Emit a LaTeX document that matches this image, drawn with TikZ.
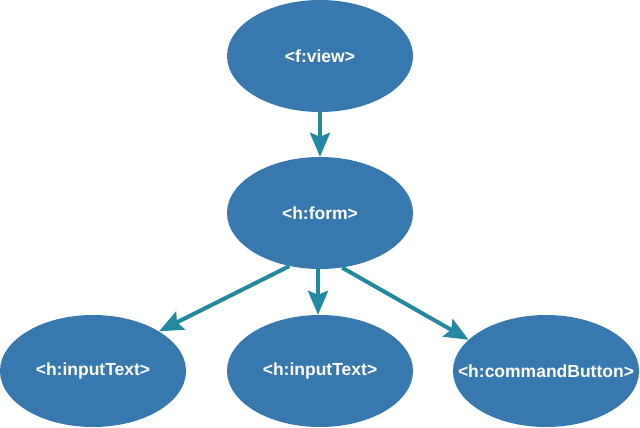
\documentclass[tikz,border=0pt]{standalone}
\usepackage{fontspec}
\setmainfont{Liberation Sans}
\usetikzlibrary{shapes.geometric, arrows.meta}
\definecolor{tagblue}{RGB}{55,120,174}
\definecolor{linkteal}{RGB}{34,137,160}
\newcommand{\tagname}[1]{\makebox[0pt]{#1}}

\begin{document}
\begin{tikzpicture}[x=1bp, y=1bp,
	tag/.style={ellipse, fill=tagblue, inner sep=0pt, minimum width=186bp, minimum height=112bp, text=white, font=\fontsize{17.5bp}{20bp}\selectfont\bfseries},
	link/.style={draw=linkteal, line width=4bp, -{Stealth[length=24bp, width=20bp, inset=4bp]}}]
	\useasboundingbox (0,0) rectangle (640,427);
	\node [tag] (view) at (320,371) {\tagname{<f:view>}};
	\node [tag] (form) at (320,214) {\tagname{<h:form>}};
	\node [tag] (inA) at (93,56) {\tagname{<h:inputText>}};
	\node [tag] (inB) at (320,56) {\tagname{<h:inputText>}};
	\node [tag] (btn) at (546,56) {\tagname{<h:commandButton>}};
	\draw [link] (view.south) -- (form.north);
	\draw [link] (form.240) -- (inA.31);
	\draw [link] (form.268) -- (inB.92);
	\draw [link] (form.292) -- (btn.158);
\end{tikzpicture}
\end{document}
